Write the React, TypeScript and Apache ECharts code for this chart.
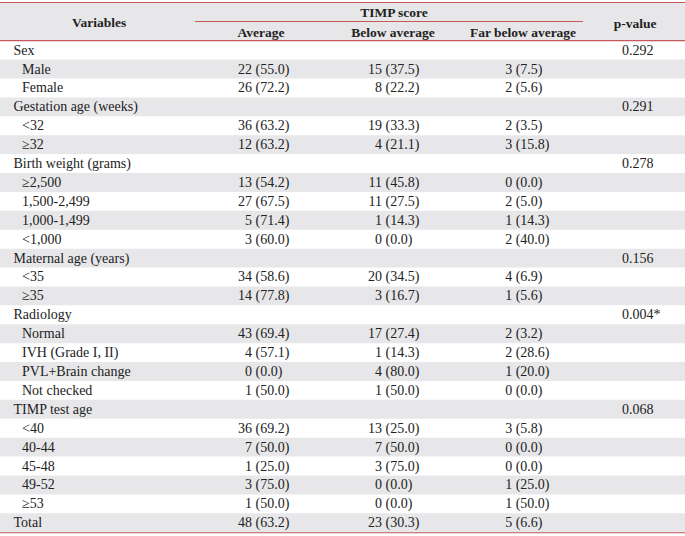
import React, { useEffect, useRef } from "react";
import * as echarts from "echarts";

const labels = [
  "Sex", "Male", "Female",
  "Gestation age (weeks)", "<32", "≥32",
  "Birth weight (grams)", "≥2,500", "1,500-2,499", "1,000-1,499", "<1,000",
  "Maternal age (years)", "<35", "≥35",
  "Radiology", "Normal", "IVH (Grade I, II)", "PVL+Brain change", "Not checked",
  "TIMP test age", "<40", "40-44", "45-48", "49-52", "≥53",
  "Total",
];
const isGroup = [
  1, 0, 0,
  1, 0, 0,
  1, 0, 0, 0, 0,
  1, 0, 0,
  1, 0, 0, 0, 0,
  1, 0, 0, 0, 0, 0,
  1,
];
const avgN = ["", "22", "26", "", "36", "12", "", "13", "27", "5", "3", "", "34", "14", "", "43", "4", "0", "1", "", "36", "7", "1", "3", "1", "48"];
const avgP = ["", "55.0", "72.2", "", "63.2", "63.2", "", "54.2", "67.5", "71.4", "60.0", "", "58.6", "77.8", "", "69.4", "57.1", "0.0", "50.0", "", "69.2", "50.0", "25.0", "75.0", "50.0", "63.2"];
const belowN = ["", "15", "8", "", "19", "4", "", "11", "11", "1", "0", "", "20", "3", "", "17", "1", "4", "1", "", "13", "7", "3", "0", "0", "23"];
const belowP = ["", "37.5", "22.2", "", "33.3", "21.1", "", "45.8", "27.5", "14.3", "0.0", "", "34.5", "16.7", "", "27.4", "14.3", "80.0", "50.0", "", "25.0", "50.0", "75.0", "0.0", "0.0", "30.3"];
const farN = ["", "3", "2", "", "2", "3", "", "0", "2", "1", "2", "", "4", "1", "", "2", "2", "1", "0", "", "3", "0", "0", "1", "1", "5"];
const farP = ["", "7.5", "5.6", "", "3.5", "15.8", "", "0.0", "5.0", "14.3", "40.0", "", "6.9", "5.6", "", "3.2", "28.6", "20.0", "0.0", "", "5.8", "0.0", "0.0", "25.0", "50.0", "6.6"];
const pValues = ["0.292", "", "", "0.291", "", "", "0.278", "", "", "", "", "0.156", "", "", "0.004*", "", "", "", "", "0.068", "", "", "", "", "", ""];

const headerVariables = "Variables";
const headerGroup = "TIMP score";
const headerCols = ["Average", "Below average", "Far below average"];
const headerP = "p-value";

const W = 685;
const H = 536;
const HEADER_TOP = 3;
const HEADER_BOTTOM = 40.7;
const TABLE_BOTTOM = 532.2;
const RED = "#c5585b";
const GRAY = "#e7e7e9";
const TEXT = "#222222";
const FONT = "'Liberation Serif', 'Times New Roman', serif";
const FS = 14;
const HFS = 13.5;

// column anchor positions (x axis values)
const colParen = [255.6, 385.6, 515.7];
const pX = 622;
const groupX = 13.5;
const subX = 22;

export default function App() {
  const ref = useRef<HTMLDivElement>(null);
  useEffect(() => {
    document.body.style.margin = "0";
    if (!ref.current) return;
    const chart = echarts.init(ref.current, null, { renderer: "svg" });
    const counts = [avgN, belowN, farN];
    const pcts = [avgP, belowP, farP];

    const txt = (x: number, y: number, text: string, align: string, bold = false, size = FS) => ({
      type: "text",
      x,
      y,
      style: {
        text,
        fill: TEXT,
        fontSize: size,
        fontFamily: FONT,
        fontWeight: bold ? "bold" : "normal",
        textAlign: align,
        textVerticalAlign: "middle",
        align,
        verticalAlign: "middle",
      },
    });

    chart.setOption({
      animation: false,
      grid: { left: 0, right: 0, top: HEADER_BOTTOM, bottom: H - TABLE_BOTTOM, containLabel: false },
      xAxis: { type: "value", min: 0, max: W, show: false },
      yAxis: { type: "category", data: labels, inverse: true, show: false },
      graphic: [
        { type: "rect", shape: { x: 0, y: HEADER_TOP, width: W, height: HEADER_BOTTOM - HEADER_TOP }, style: { fill: GRAY }, z: 0 },
        { type: "line", shape: { x1: 0, y1: 2.5, x2: W, y2: 2.5 }, style: { stroke: RED, lineWidth: 1.2 } },
        { type: "line", shape: { x1: 195, y1: 21.5, x2: 583, y2: 21.5 }, style: { stroke: RED, lineWidth: 1 } },
        { type: "line", shape: { x1: 0, y1: HEADER_BOTTOM, x2: W, y2: HEADER_BOTTOM }, style: { stroke: RED, lineWidth: 1.2 } },
        { type: "line", shape: { x1: 0, y1: TABLE_BOTTOM + 0.5, x2: W, y2: TABLE_BOTTOM + 0.5 }, style: { stroke: RED, lineWidth: 1.2 } },
        txt(99, 22, headerVariables, "center", true, HFS),
        txt(394, 12, headerGroup, "center", true, HFS),
        txt(261, 32, headerCols[0], "center", true, HFS),
        txt(393, 32, headerCols[1], "center", true, HFS),
        txt(523, 32, headerCols[2], "center", true, HFS),
        txt(635, 23, headerP, "center", true, HFS),
      ],
      series: [
        {
          type: "custom",
          coordinateSystem: "cartesian2d",
          encode: { x: 0, y: 1 },
          data: labels.map((_, i) => [0, i]),
          renderItem: (_params: any, api: any) => {
            const i = api.value(1) as number;
            const c = api.coord([0, i]);
            const h = api.size([0, 1])[1];
            const y = c[1];
            const children: any[] = [];
            if (i % 2 === 1) {
              const left = api.coord([0, i])[0];
              const right = api.coord([W, i])[0];
              children.push({ type: "rect", shape: { x: left, y: y - h / 2, width: right - left, height: h }, style: { fill: GRAY } });
            }
            const lx = api.coord([isGroup[i] ? groupX : subX, i])[0];
            children.push(txt(lx, y, labels[i], "left"));
            for (let k = 0; k < 3; k++) {
              if (counts[k][i]) {
                const px = api.coord([colParen[k], i])[0];
                children.push(txt(px - 3.5, y, counts[k][i], "right"));
                children.push(txt(px, y, "(" + pcts[k][i] + ")", "left"));
              }
            }
            if (pValues[i]) {
              children.push(txt(api.coord([pX, i])[0], y, pValues[i], "left"));
            }
            return { type: "group", children };
          },
        },
      ],
    });
    return () => chart.dispose();
  }, []);
  return <div ref={ref} style={{ width: W, height: H }} />;
}
